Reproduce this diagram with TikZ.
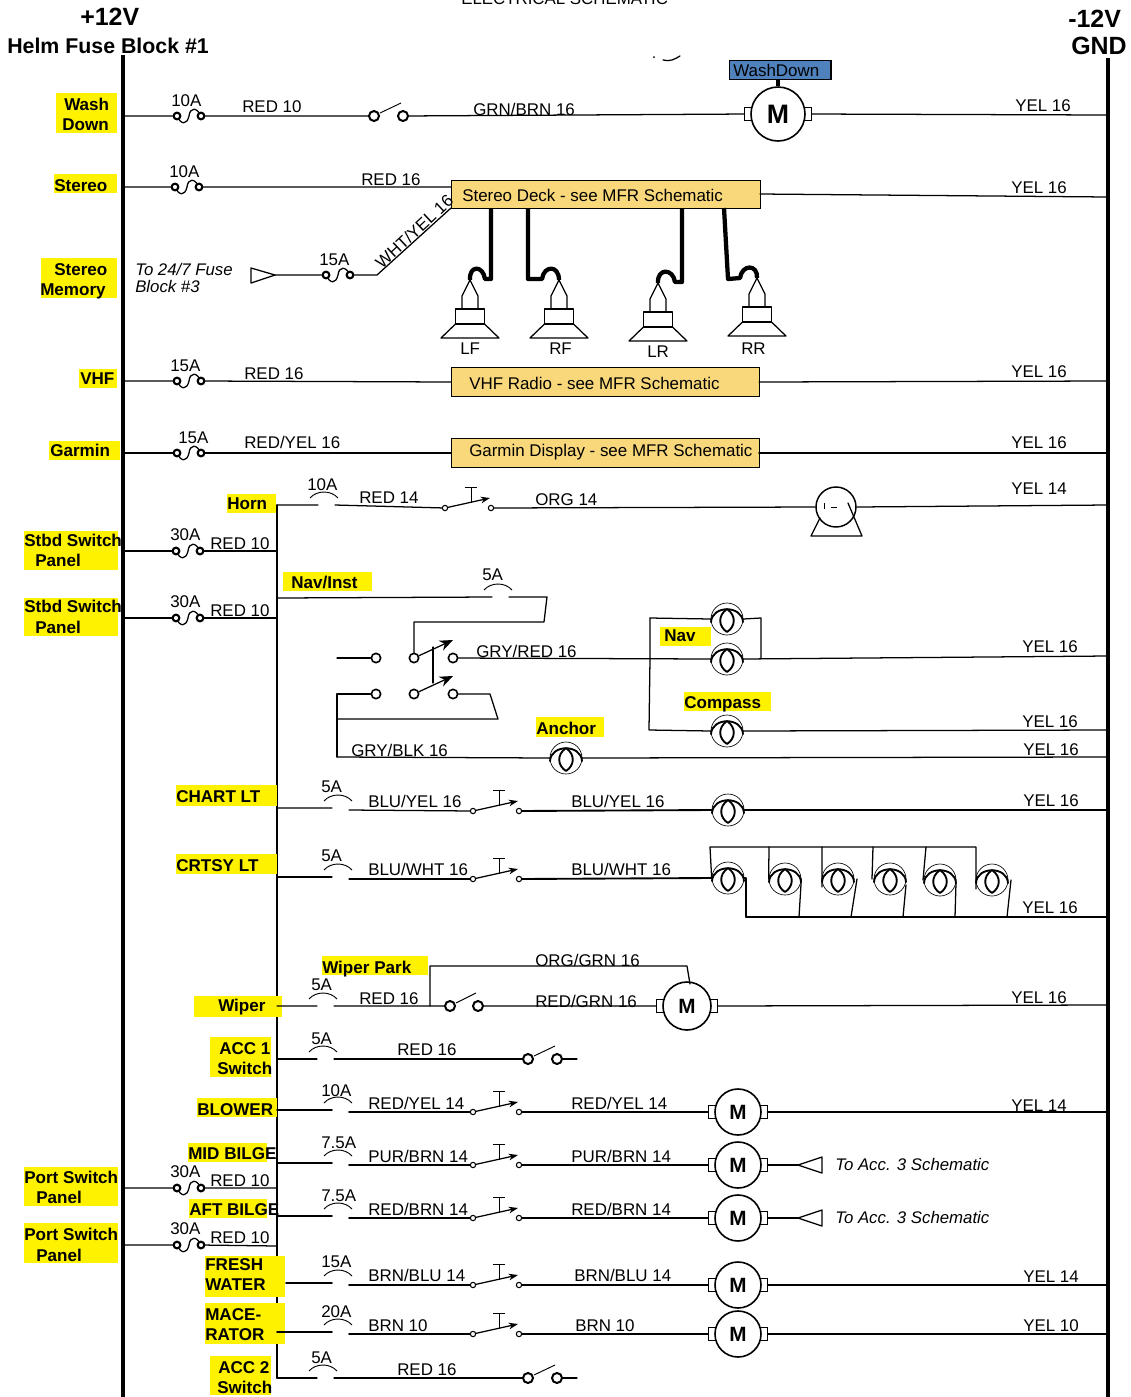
\documentclass[tikz,border=0pt]{standalone}
\usepackage{fontspec}
\setmainfont{Liberation Sans}
\usetikzlibrary{arrows.meta,calc}
\definecolor{deckgold}{HTML}{F9D77B}
\definecolor{washblue}{HTML}{4F81BD}
\newcounter{tn}
\tikzset{
  wire/.style={line width=0.95pt,line cap=round,line join=round},
  wireb/.style={line width=1.4pt,line cap=round,line join=round},
  thin line/.style={line width=0.7pt,line join=round},
  bus/.style={line width=3.2pt},
  spk/.style={line width=3.2pt,line join=round},
  wl/.style={anchor=base west,inner sep=0pt,font=\fontsize{12.7}{14}\selectfont},
  yl/.style={anchor=base west,inner sep=0pt,font=\fontsize{12.8}{14}\selectfont\bfseries},
  il/.style={anchor=base west,inner sep=0pt,font=\fontsize{12.6}{14}\selectfont\itshape},
  term/.style={circle,draw,fill=white,inner sep=0pt,line width=1.6pt,minimum size=5pt},
  termm/.style={circle,draw,fill=white,inner sep=0pt,line width=1.2pt,minimum size=7pt},
  termb/.style={circle,draw,fill=white,inner sep=0pt,line width=1.5pt,minimum size=7.5pt},
  terms/.style={circle,draw,fill=white,inner sep=0pt,line width=0.8pt,minimum size=4pt},
  devbox/.style={draw,fill=deckgold,line width=1.1pt,inner sep=0pt,anchor=north west},
  lampc/.style={circle,draw,inner sep=0pt,line width=0.5pt,minimum size=24pt},
  motorc/.style={circle,draw,fill=white,inner sep=0pt,line width=1.2pt,font=\bfseries},
  motort/.style={rectangle,draw,fill=white,inner sep=0pt,line width=0.6pt,minimum width=5.2pt,minimum height=9.5pt},
  hl/.style={fill=yellow},
}
\newcommand{\wlab}[3]{\stepcounter{tn}\node[wl] (t\arabic{tn}) at (#1,#2) {#3};}
\newcommand{\ylab}[3]{\stepcounter{tn}\node[yl] (t\arabic{tn}) at (#1,#2) {#3};}
\newcommand{\ilab}[3]{\stepcounter{tn}\node[il] (t\arabic{tn}) at (#1,#2) {#3};}
\newcommand{\yb}[4]{\fill[hl] (#1,#2) rectangle (#3,#4);}
% name,x,y : S-curve fuse with two terminals
\newcommand{\fuseS}[3]{\begin{scope}[shift={(#2,#3)}]
  \draw[wire] (-12,0) .. controls (-8,9) and (-2,9) .. (0,0) .. controls (1,-9) and (8,-9) .. (12,0);
  \node[term] (#1-l) at (-12,0) {};
  \node[term] (#1-r) at (12,0) {};
\end{scope}}
% name,x,y,dy : open arc fuse (line gap under an arc)
\newcommand{\fuseG}[4]{\begin{scope}[shift={(#2,#3)}]
  \draw[thin line] (-14,-7) .. controls (-7,-15) and (7,-15) .. (14,-7);
  \coordinate (#1-l) at (-6,0);
  \coordinate (#1-r) at (11,#4);
\end{scope}}
% name,x,y,w : open toggle switch
\newcommand{\swO}[4]{\begin{scope}[shift={(#2,#3)}]
  \node[termb] (#1-l) at (0,0) {};
  \node[termb] (#1-r) at (#4,0) {};
  \draw[thin line] (6,-3) -- (#4-2,-13);
\end{scope}}
% name,x,y : momentary push switch
\newcommand{\swP}[3]{\begin{scope}[shift={(#2,#3)}]
  \node[terms] (#1-l) at (0,0) {};
  \node[terms] (#1-r) at (46,0) {};
  \draw[wire,-{Stealth[length=7pt,width=5pt]}] (#1-l) -- (45,-10);
  \draw[thin line] (26,-5) -- (26,-21) (20,-21) -- (32,-21);
\end{scope}}
% name,x,y : lamp
\newcommand{\lampN}[3]{\begin{scope}[shift={(#2,#3)}]
  \node[lampc] (#1) at (0,0) {};
  \draw[wireb] (-16,3) .. controls (-15,-14) and (15,-14) .. (16,3);
  \draw[wireb] (0,-10) .. controls (-10,-3) and (-8,8) .. (0,13) .. controls (8,8) and (10,-3) .. (0,-10);
\end{scope}}
% name,x,y,radius,fontsize : motor
\newcommand{\motorM}[5]{\begin{scope}[shift={(#2,#3)}]
  \node[motort] (#1-l) at (-#4-3,0) {};
  \node[motort] (#1-r) at (#4+3,0) {};
  \node[motorc,minimum size=#4*1.5pt,font=\bfseries\fontsize{#5}{#5}\selectfont] (#1) at (0,0) {M};
\end{scope}}
% name,x,y(apex) : speaker
\newcommand{\spkr}[3]{\begin{scope}[shift={(#2,#3)}]
  \coordinate (#1-a) at (0,0);
  \draw[wire] (-8,29) -- (-8,16) -- (0,0) -- (8,16) -- (8,29);
  \draw[wire] (-14.5,29) rectangle (14.5,44);
  \draw[wire] (-14.5,44) -- (-29,58) -- (29,58) -- (14.5,44);
\end{scope}}
\begin{document}
\begin{tikzpicture}[x=0.75pt,y=-0.75pt]
\fill[white] (0,0) rectangle (1131,1397);
\path[use as bounding box] (0,0) rectangle (1131,1397);
% buses
\coordinate (Ltop) at (123,55); \coordinate (Lbot) at (123,1397);
\coordinate (Rtop) at (1108,58); \coordinate (Rbot) at (1108,1397);
\coordinate (Stop) at (277,505); \coordinate (Sbot) at (277,1378);
\draw[wireb] (Stop) -- (Sbot);
% highlights
\yb{56}{93}{117}{133}\yb{54}{174}{117}{193}\yb{41}{258}{117}{298}
\yb{79}{369}{117}{388}\yb{49}{441}{120}{460}\yb{227}{494}{276}{513}
\yb{24}{531}{118}{570}\yb{24}{598}{118}{636}
\yb{283}{572}{372}{591}\yb{660}{627}{711}{646}\yb{684}{692}{771}{711}\yb{536}{717}{604}{737}
\yb{176}{785}{277}{806}\yb{176}{854}{277}{874}
\yb{322}{956}{428}{975}\yb{194}{996}{282}{1017}\yb{210}{1037}{271}{1077}
\yb{197}{1098}{277}{1117}\yb{188}{1143}{267}{1162}\yb{189}{1199}{267}{1218}
\yb{24}{1167}{118}{1206}\yb{24}{1223}{118}{1263}
\yb{205}{1256}{285}{1297}\yb{205}{1303}{285}{1344}\yb{210}{1356}{271}{1395}
\draw[bus] (Ltop) -- (Lbot);
\draw[bus] (Rtop) -- (Rbot);
% headings
\node[inner sep=0pt,anchor=base west,font=\fontsize{18.7}{20}\selectfont\bfseries] (plus) at (80,25) {+12V};
\node[inner sep=0pt,anchor=base west,font=\fontsize{16}{18}\selectfont\bfseries] (helm) at (7,53) {Helm Fuse Block \#1};
\node[inner sep=0pt,anchor=base west,font=\fontsize{18.7}{20}\selectfont\bfseries] (minus) at (1068,27) {-12V};
\node[inner sep=0pt,anchor=base west,font=\fontsize{18.7}{20}\selectfont\bfseries] (gnd) at (1071,54) {GND};
\node[inner sep=0pt,anchor=base west,font=\fontsize{12.65}{15}\selectfont] (title) at (461,4) {ELECTRICAL SCHEMATIC};
\coordinate (sq1) at (663,60); \coordinate (sq2) at (680,56); \coordinate (sq0) at (654,57);
\draw[wire] (sq1) .. controls (670,62) and (675,59) .. (sq2);
\fill (sq0) circle (1);
% Wash Down row
\fuseS{fa}{189}{116}
\swO{sa}{374}{116}{29}
\motorM{ma}{778}{114}{27}{20}
\coordinate (ra) at (1108,115);
\coordinate (la) at (123,116);
\draw[wire] (la) -- (fa-l) (fa-r) -- (sa-l) (sa-r) -- (ma-l) (ma-r) -- (ra);
\node[draw,fill=washblue,line width=1pt,inner sep=0pt,minimum width=76pt,minimum height=14pt,anchor=north west] (wdbox) at (729,60) {};
\node[wl] (wdtxt) at (733,76) {WashDown};
\draw[line width=2.5pt] (wdbox.south -| ma) -- (ma.north);
\wlab{171}{106}{10A}\wlab{242}{112}{RED 10}\wlab{473}{115}{GRN/BRN 16}\wlab{1015}{111}{YEL 16}
\ylab{64}{110}{Wash}\ylab{62}{130}{Down}
% Stereo row
\fuseS{fb}{187}{187}
\node[devbox,minimum width=231.5pt,minimum height=21pt] (deck) at (451,180) {};
\node[wl] (decktxt) at (462,201) {Stereo Deck - see MFR Schematic};
\coordinate (lb) at (123,187); \coordinate (db) at (451,187); \coordinate (dbr) at (760,194); \coordinate (rb) at (1108,197);
\draw[wire] (lb) -- (fb-l) (fb-r) -- (db) (dbr) -- (rb);
\wlab{169}{177}{10A}\wlab{361}{185}{RED 16}\wlab{1011}{193}{YEL 16}
\ylab{54}{191}{Stereo}
% Stereo memory row
\coordinate (tria) at (275,275);
\draw[wire] (251,268) -- (tria) -- (251,283) -- cycle;
\fuseS{fc}{338}{275}
\coordinate (kc) at (377,275); \coordinate (dc) at (451,208);
\draw[wire] (tria) -- (fc-l) (fc-r) -- (kc) -- (dc);
\wlab{319}{265}{15A}
\node[wl,rotate=43] (whtyel) at (382,270) {WHT/YEL 16};
\ilab{135}{275}{To 24/7 Fuse}\ilab{135}{292}{Block \#3}
\ylab{54}{275}{Stereo}\ylab{40}{295}{Memory}
% Speakers
\spkr{lf}{470}{280}\spkr{rf}{559}{280}\spkr{lr}{658}{283}\spkr{rr}{757}{278}
\coordinate (d1) at (491,208); \coordinate (d2) at (528,208); \coordinate (d3) at (682,208); \coordinate (d4) at (724,208);
\draw[spk] (d1) -- (491,279) -- (485,279) .. controls (483,265) and (469,265) .. (lf-a);
\draw[spk] (d2) -- (528,279) -- (542,279) .. controls (544,265) and (559,265) .. (rf-a);
\draw[spk] (d3) -- (682,282) -- (675,282) .. controls (673,268) and (657,268) .. (lr-a);
\draw[spk] (d4) -- (728,279) -- (740,278) .. controls (742,264) and (758,264) .. (rr-a);
\wlab{460}{354}{LF}\wlab{549}{354}{RF}\wlab{647}{357}{LR}\wlab{741}{354}{RR}
% VHF
\fuseS{fd}{189}{381}
\node[devbox,minimum width=231pt,minimum height=21.5pt] (vhf) at (451,367) {};
\node[wl] (vhftxt) at (469,389) {VHF Radio - see MFR Schematic};
\coordinate (ld) at (123,381); \coordinate (dd) at (451,382); \coordinate (ddr) at (759,382); \coordinate (rd) at (1108,381);
\draw[wire] (ld) -- (fd-l) (fd-r) -- (dd) (ddr) -- (rd);
\wlab{170}{371}{15A}\wlab{244}{379}{RED 16}\wlab{1011}{377}{YEL 16}
\ylab{80}{384}{VHF}
% Garmin
\fuseS{fe}{189}{453}
\node[devbox,minimum width=231pt,minimum height=21.5pt] (gar) at (451,438) {};
\node[wl] (gartxt) at (469,456) {Garmin Display - see MFR Schematic};
\coordinate (le) at (123,453); \coordinate (de) at (451,453); \coordinate (der) at (759,453); \coordinate (re) at (1108,453);
\draw[wire] (le) -- (fe-l) (fe-r) -- (de);
\draw[wireb] (der) -- (re);
\wlab{178}{443}{15A}\wlab{244}{448}{RED/YEL 16}\wlab{1011}{448}{YEL 16}
\ylab{50}{456}{Garmin}
% Horn
\fuseG{ff}{324}{505}{0}
\swP{pf}{445}{508}
\node[circle,draw,line width=1.1pt,inner sep=0pt,minimum size=30pt] (horn) at (836,507) {};
\coordinate (hl1) at (820,518); \coordinate (hl2) at (811,536); \coordinate (hr2) at (862,536); \coordinate (hr1) at (848,503);
\draw[wire] (hl1) -- (hl2) -- (hr2) -- (hr1);
\draw[thin line] (824,503) -- (824,509) (831,507) -- (837,507);
\coordinate (rf1) at (1108,505);
\draw[wire] (Stop) -- (ff-l) (ff-r) -- (pf-l) (pf-r) -- (horn.west);
\draw[wire] (horn.east) -- (rf1);
\wlab{307}{490}{10A}\wlab{359}{503}{RED 14}\wlab{535}{505}{ORG 14}\wlab{1011}{494}{YEL 14}
\ylab{227}{509}{Horn}
% Stbd switch panels
\fuseS{fg}{188}{551}\fuseS{fh}{188}{618}
\coordinate (lg) at (123,551); \coordinate (sg) at (277,551);
\coordinate (lh) at (123,618); \coordinate (sh) at (277,618);
\draw[wire] (lg) -- (fg-l) (fg-r) -- (sg) (lh) -- (fh-l) (fh-r) -- (sh);
\wlab{170}{540}{30A}\wlab{210}{549}{RED 10}\wlab{170}{607}{30A}\wlab{210}{616}{RED 10}
\ylab{24}{546}{Stbd Switch}\ylab{35}{566}{Panel}\ylab{24}{612}{Stbd Switch}\ylab{35}{633}{Panel}
% Nav/Inst and DPDT switch
\fuseG{fi}{498}{597}{0}
\coordinate (si) at (277,598); \coordinate (ci1) at (547,597); \coordinate (ci2) at (544,622); \coordinate (ci3) at (414,622);
\node[termm] (dt1) at (376,658) {}; \node[termm] (dt2) at (414,658) {}; \node[termm] (dt3) at (453,658) {};
\node[termm] (dw1) at (376,694) {}; \node[termm] (dw2) at (414,694) {}; \node[termm] (dw3) at (453,694) {};
\coordinate (dl) at (337,658);
\draw[wire] (si) -- (fi-l) (fi-r) -- (ci1) -- (ci2) -- (ci3) -- (dt2);
\draw[wire] (dl) -- (dt1);
\draw[wire,-{Stealth[length=10pt,width=8pt]}] (dt2) -- (453,640);
\draw[wire,-{Stealth[length=10pt,width=8pt]}] (dw2) -- (453,676);
\draw[wire] (433,647) -- (433,683);
\coordinate (bl1) at (337,694); \coordinate (bl2) at (337,757); \coordinate (bk) at (337,719); \coordinate (br1) at (490,694); \coordinate (br2) at (498,719);
\draw[wire] (dw1) -- (bl1) -- (bl2);
\draw[wire] (dw3) -- (br1) -- (br2) -- (bk);
\lampN{nv1}{727}{619}\lampN{nv2}{727}{659}\lampN{cmp}{727}{731}\lampN{anc}{566}{758}
\coordinate (nb1) at (650,659); \coordinate (nb2) at (650,618); \coordinate (nb3) at (761,618); \coordinate (nb4) at (761,658); \coordinate (nb5) at (649,730);
\coordinate (rn) at (1108,656); \coordinate (rc) at (1108,730); \coordinate (ra2) at (1108,757);
\draw[wire] (dt3) -- (nv2.west) (nv2.east) -- (rn);
\draw[wire] (nb2) -- (nv1.west) (nv1.east) -- (nb3) -- (nb4);
\draw[wire] (nb2) -- (nb1) -- (nb5) -- (cmp.west);
\draw[wire] (cmp.east) -- (rc);
\draw[wire] (bl2) -- (anc.west) (anc.east) -- (ra2);
\wlab{482}{580}{5A}\wlab{476}{657}{GRY/RED 16}\wlab{351}{756}{GRY/BLK 16}
\wlab{1022}{652}{YEL 16}\wlab{1022}{727}{YEL 16}\wlab{1023}{755}{YEL 16}
\ylab{291}{588}{Nav/Inst}\ylab{664}{641}{Nav}\ylab{684}{708}{Compass}\ylab{536}{734}{Anchor}
% Chart light
\fuseG{fj}{338}{808}{2}
\swP{pj}{473}{811}
\lampN{cl}{728}{810}
\coordinate (sj) at (277,808); \coordinate (rj) at (1108,810);
\draw[wire] (sj) -- (fj-l) (fj-r) -- (pj-l);
\draw[wireb] (pj-r) -- (cl.west) (cl.east) -- (rj);
\wlab{321}{792}{5A}\wlab{368}{807}{BLU/YEL 16}\wlab{571}{807}{BLU/YEL 16}\wlab{1023}{806}{YEL 16}
\ylab{176}{802}{CHART LT}
% Courtesy lights
\fuseG{fk}{338}{877}{2}
\swP{pk}{473}{879}
\lampN{c1}{728}{878}\lampN{c2}{785}{879}\lampN{c3}{838}{879}\lampN{c4}{890}{879}\lampN{c5}{940}{880}\lampN{c6}{992}{880}
\coordinate (sk) at (277,877);
\coordinate (tk0) at (710,847); \coordinate (tk1) at (976,847); \coordinate (tk2) at (1108,917);\coordinate (bk0) at (746,917);
\draw[wire] (sk) -- (fk-l) (fk-r) -- (pk-l);
\draw[wireb] (pk-r) -- (c1.west);
\draw[wire] (c1.west) -- (tk0) -- (tk1) -- (976,889);
\draw[wire] (769,847) -- (c2.west) (822,847) -- (822,887) (873,847) -- (872,879) (926,847) -- (923,880);
\draw[wireb] (bk0) -- (tk2);
\draw[wire] (c1.east) -- (746,878) -- (bk0);
\draw[wire] (799,917) -- (c2.east) (851,917) -- (857,879) (903,917) -- (906,885) (955,917) -- (956,883) (1007,917) -- (1011,880);
\wlab{321}{861}{5A}\wlab{368}{875}{BLU/WHT 16}\wlab{571}{875}{BLU/WHT 16}\wlab{1022}{913}{YEL 16}
\ylab{176}{871}{CRTSY LT}
% Wiper
\fuseG{fl}{323}{1006}{0}
\swO{sl}{450}{1006}{28}
\motorM{ml}{687}{1006}{24}{15.5}
\coordinate (sl0) at (277,1006); \coordinate (kl) at (430,1006); \coordinate (kl2) at (430,966); \coordinate (kl3) at (687,966); \coordinate (ml1) at (690,984); \coordinate (rl) at (1108,1005);
\draw[wire] (sl0) -- (fl-l) (fl-r) -- (sl-l) (sl-r) -- (ml-l) (ml-r) -- (rl);
\draw[wire] (kl) -- (kl2) -- (kl3) -- (ml1);
\wlab{311}{990}{5A}\wlab{359}{1004}{RED 16}\wlab{535}{966}{ORG/GRN 16}\wlab{535}{1007}{RED/GRN 16}\wlab{1011}{1003}{YEL 16}
\ylab{322}{973}{Wiper Park}\ylab{218}{1011}{Wiper}
% ACC 1
\fuseG{fm}{323}{1059}{0}
\swO{sm}{528}{1059}{29}
\coordinate (sm0) at (277,1059); \coordinate (em) at (577,1059);
\draw[wire] (sm0) -- (fm-l) (fm-r) -- (sm-l) (sm-r) -- (em);
\wlab{311}{1044}{5A}\wlab{397}{1055}{RED 16}
\ylab{219}{1054}{ACC 1}\ylab{217}{1074}{Switch}
% Blower
\fuseG{fn}{338}{1110}{2}
\swP{pn}{473}{1112}
\motorM{mn}{738}{1112}{23}{15.5}
\coordinate (sn) at (277,1110); \coordinate (rn2) at (1108,1112);
\draw[wireb] (sn) -- (fn-l) (fn-r) -- (pn-l) (pn-r) -- (mn-l) (mn-r) -- (rn2);
\wlab{321}{1096}{10A}\wlab{368}{1109}{RED/YEL 14}\wlab{571}{1109}{RED/YEL 14}\wlab{1011}{1111}{YEL 14}
\ylab{197}{1115}{BLOWER}
% Mid bilge
\fuseG{fo}{338}{1163}{2}
\swP{po}{473}{1165}
\motorM{mo}{738}{1165}{23}{15.5}
\coordinate (so) at (277,1163); \coordinate (ato) at (798,1165);
\draw[wireb] (so) -- (fo-l) (fo-r) -- (po-l) (po-r) -- (mo-l) (mo-r) -- (ato);
\draw[wire] (ato) -- (822,1157) -- (822,1173) -- cycle;
\wlab{321}{1148}{7.5A}\wlab{368}{1162}{PUR/BRN 14}\wlab{571}{1162}{PUR/BRN 14}
\ilab{835}{1170}{To Acc. 3 Schematic}
\ylab{188}{1159}{MID BILGE}
% Port panels
\fuseS{fp}{189}{1188}\fuseS{fq}{189}{1245}
\coordinate (lp) at (123,1188); \coordinate (sp) at (277,1188); \coordinate (lq) at (123,1245); \coordinate (sq) at (277,1246);
\draw[wire] (lp) -- (fp-l) (fp-r) -- (sp) (lq) -- (fq-l) (fq-r) -- (sq);
\wlab{170}{1177}{30A}\wlab{210}{1186}{RED 10}\wlab{170}{1234}{30A}\wlab{210}{1243}{RED 10}
\ylab{24}{1183}{Port Switch}\ylab{36}{1203}{Panel}\ylab{24}{1240}{Port Switch}\ylab{36}{1261}{Panel}
% Aft bilge
\fuseG{fr}{338}{1216}{2}
\swP{pr}{473}{1218}
\motorM{mr}{738}{1218}{23}{15.5}
\coordinate (sr) at (277,1216); \coordinate (atr) at (798,1218);
\draw[wireb] (sr) -- (fr-l) (fr-r) -- (pr-l) (pr-r) -- (mr-l) (mr-r) -- (atr);
\draw[wire] (atr) -- (822,1210) -- (822,1226) -- cycle;
\wlab{321}{1201}{7.5A}\wlab{368}{1215}{RED/BRN 14}\wlab{571}{1215}{RED/BRN 14}
\ilab{835}{1223}{To Acc. 3 Schematic}
\ylab{189}{1215}{AFT BILGE}
% Fresh water
\fuseG{fs}{338}{1283}{2}
\swP{ps}{473}{1285}
\motorM{ms}{738}{1285}{23}{15.5}
\coordinate (ss) at (286,1283); \coordinate (rs) at (1108,1285);
\draw[wireb] (ss) -- (fs-l) (fs-r) -- (ps-l) (ps-r) -- (ms-l) (ms-r) -- (rs);
\wlab{321}{1267}{15A}\wlab{368}{1281}{BRN/BLU 14}\wlab{574}{1281}{BRN/BLU 14}\wlab{1023}{1282}{YEL 14}
\ylab{205}{1270}{FRESH}\ylab{205}{1290}{WATER}
% Macerator
\fuseG{ft}{338}{1332}{2}
\swP{pt}{473}{1334}
\motorM{mt}{738}{1334}{23}{15.5}
\coordinate (st) at (277,1332); \coordinate (rt) at (1108,1334);
\draw[wireb] (st) -- (ft-l) (ft-r) -- (pt-l) (pt-r) -- (mt-l) (mt-r) -- (rt);
\wlab{321}{1317}{20A}\wlab{368}{1331}{BRN 10}\wlab{575}{1331}{BRN 10}\wlab{1023}{1331}{YEL 10}
\ylab{205}{1320}{MACE-}\ylab{205}{1340}{RATOR}
% ACC 2
\fuseG{fu}{323}{1378}{0}
\swO{su}{528}{1378}{29}
\coordinate (su0) at (277,1378); \coordinate (eu) at (577,1378);
\draw[wire] (su0) -- (fu-l) (fu-r) -- (su-l) (su-r) -- (eu);
\wlab{311}{1363}{5A}\wlab{397}{1375}{RED 16}
\ylab{218}{1373}{ACC 2}\ylab{217}{1393}{Switch}
\end{tikzpicture}
\end{document}
